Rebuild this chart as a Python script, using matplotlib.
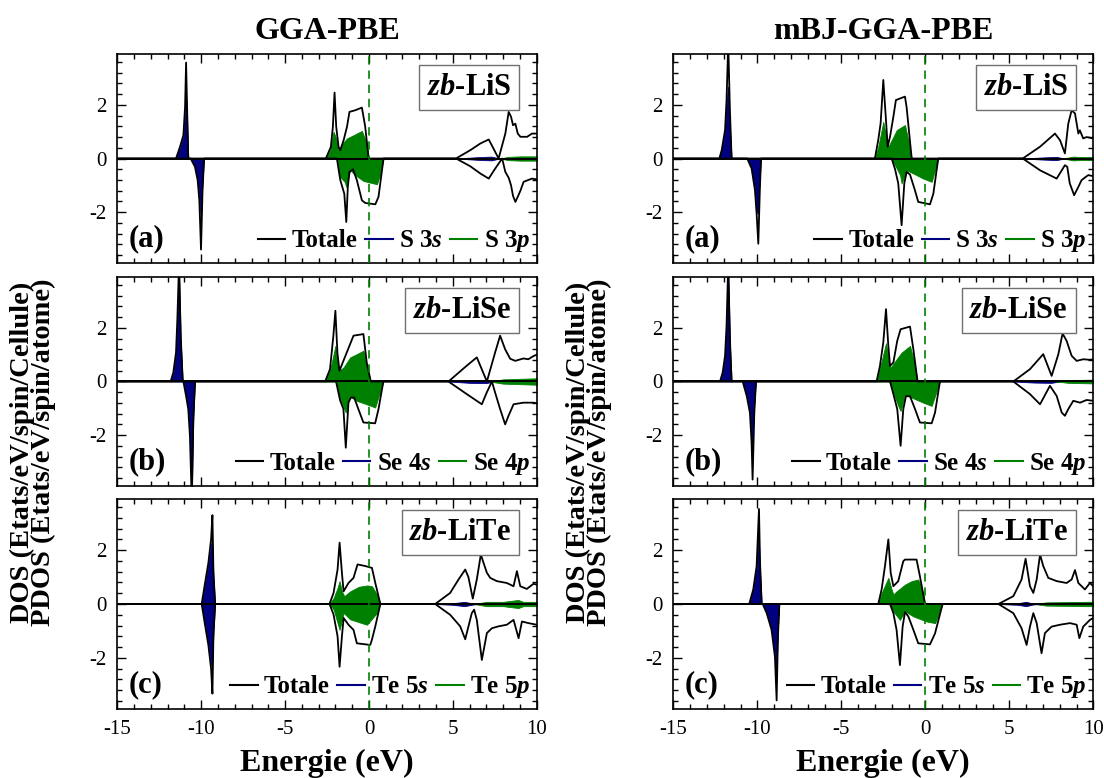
import matplotlib
matplotlib.use("Agg")
import matplotlib.pyplot as plt
from matplotlib.ticker import MultipleLocator
from matplotlib.lines import Line2D
import numpy as np

plt.rcParams['font.family'] = ['Liberation Serif', 'DejaVu Serif']
plt.rcParams['axes.unicode_minus'] = False
plt.rcParams['mathtext.fontset'] = 'custom'
plt.rcParams['mathtext.rm'] = 'Liberation Serif'
plt.rcParams['mathtext.it'] = 'Liberation Serif:italic'
plt.rcParams['mathtext.bf'] = 'Liberation Serif:bold'
plt.rcParams['mathtext.bfit'] = 'Liberation Serif:bold:italic'

# ---------------- data : (energy eV, DOS) pairs ----------------
# GGA-PBE  zb-LiS
GGA_LIS_TOT_UP = [(-15, 0), (-11.5, 0), (-11.26, 0.44), (-11.06, 0.87), (-10.96, 1.93), (-10.9, 3.58), (-10.84, 1.9), (-10.77, 0),
                  (-2.57, 0), (-2.27, 0.43), (-2.15, 1.18), (-2.05, 2.46), (-1.95, 1.18), (-1.81, 0.43), (-1.71, 0.31), (-1.51, 0.68),
                  (-1.31, 1.18), (-1.16, 1.74), (-0.82, 1.80), (-0.42, 1.90), (-0.22, 1.18), (-0.02, 0),
                  (5.19, 0), (6.04, 0.31), (6.64, 0.56), (7.14, 0.71), (7.4, 0.4), (7.73, 0), (8.13, 0.93), (8.33, 1.74), (8.47, 1.56),
                  (8.59, 1.24), (8.73, 1.3), (8.87, 0.93), (9.03, 0.81), (9.43, 0.81), (9.72, 0.93), (10, 0.93)]
GGA_LIS_TOT_DN = [(-15, 0), (-10.63, 0), (-10.37, -0.31), (-10.21, -0.81), (-10.11, -1.56), (-10.01, -3.4), (-9.92, -1.2), (-9.83, 0),
                  (-1.91, 0), (-1.71, -0.8), (-1.47, -1.31), (-1.35, -2.37), (-1.26, -1.06), (-1.16, -0.5), (-0.95, -0.4), (-0.72, -0.81),
                  (-0.42, -1.56), (-0.22, -1.66), (0.38, -1.71), (0.57, -1.43), (0.87, 0),
                  (5.19, 0), (6.04, -0.29), (6.64, -0.56), (7.14, -0.75), (7.5, -0.4), (7.94, 0), (8.13, -0.5), (8.33, -0.72), (8.47, -1.0),
                  (8.59, -1.4), (8.73, -1.62), (8.87, -1.43), (9.03, -1.2), (9.22, -0.87), (9.72, -0.75), (10, -0.78)]
GGA_LIS_S_UP = [(-11.5, 0), (-11.26, 0.4), (-11.06, 0.8), (-10.96, 1.6), (-10.91, 2.5), (-10.84, 1.5), (-10.77, 0)]
GGA_LIS_S_DN = [(-10.63, 0), (-10.37, -0.28), (-10.21, -0.75), (-10.11, -1.4), (-10.02, -2.3), (-9.93, -1.0), (-9.83, 0)]
GGA_LIS_P_UP = [(-2.57, 0), (-2.31, 0.3), (-2.11, 1.0), (-1.99, 0.81), (-1.81, 0.31), (-1.61, 0.53), (-1.31, 0.75), (-0.92, 0.87),
                (-0.42, 1.03), (-0.12, 0.56), (-0.02, 0)]
GGA_LIS_P_DN = [(-1.91, 0), (-1.71, -0.7), (-1.45, -0.87), (-1.35, -1.06), (-1.21, -0.62), (-1.12, -0.43), (-0.82, -0.62),
                (-0.32, -0.84), (0.48, -0.96), (0.68, -0.56), (0.87, 0)]
GGA_LIS_CB_S = [(5.2, 0), (6.5, 0.05), (7.3, 0.07), (7.8, 0)]
GGA_LIS_CB_P = [(7.8, 0), (8.3, 0.06), (9.0, 0.08), (10, 0.08)]

# GGA-PBE  zb-LiSe
GGA_LISE_TOT_UP = [(-15, 0), (-11.82, 0), (-11.66, 0.34), (-11.50, 1.08), (-11.42, 2.33), (-11.32, 4.4), (-11.22, 1.7), (-11.10, 0),
                   (-2.61, 0), (-2.32, 0.46), (-2.12, 1.71), (-2.0, 2.64), (-1.88, 1.08), (-1.76, 0.4), (-1.42, 0.93), (-0.92, 1.71),
                   (-0.33, 1.77), (-0.13, 0.7), (0.11, 0),
                   (4.74, 0), (5.83, 0.59), (6.43, 0.9), (7.03, 0), (7.52, 1.08), (7.82, 1.71), (8.12, 1.2), (8.42, 0.85), (8.72, 0.77),
                   (9.21, 0.86), (9.5, 0.83), (9.81, 0.95), (10, 1.0)]
GGA_LISE_TOT_DN = [(-15, 0), (-11.06, 0), (-10.90, -0.54), (-10.77, -1.03), (-10.67, -2.03), (-10.56, -4.5), (-10.47, -1.5), (-10.37, 0),
                   (-1.96, 0), (-1.72, -0.7), (-1.52, -1.03), (-1.38, -2.47), (-1.22, -0.79), (-1.08, -0.6), (-0.88, -0.6),
                   (-0.63, -1.03), (-0.33, -1.53), (0.37, -1.56), (0.57, -1.03), (0.86, 0),
                   (4.74, 0), (5.83, -0.47), (6.73, -0.85), (7.03, -0.4), (7.33, 0), (7.52, -0.41), (7.82, -1.03), (8.12, -1.6),
                   (8.32, -1.28), (8.62, -0.85), (9.21, -0.79), (9.81, -0.79), (10, -0.81)]
GGA_LISE_S_UP = [(-11.82, 0), (-11.66, 0.3), (-11.50, 1.0), (-11.42, 2.2), (-11.33, 4.4), (-11.22, 1.5), (-11.10, 0)]
GGA_LISE_S_DN = [(-11.06, 0), (-10.90, -0.5), (-10.77, -1.0), (-10.67, -2.0), (-10.57, -4.5), (-10.47, -1.3), (-10.37, 0)]
GGA_LISE_P_UP = [(-2.61, 0), (-2.32, 0.4), (-2.0, 1.33), (-1.80, 0.4), (-1.52, 0.52), (-1.12, 0.9), (-0.73, 1.02), (-0.33, 1.15),
                 (-0.13, 0.55), (0.11, 0)]
GGA_LISE_P_DN = [(-1.96, 0), (-1.72, -0.62), (-1.38, -1.16), (-1.16, -0.54), (-0.73, -0.72), (-0.13, -0.85), (0.37, -0.97), (0.86, 0)]
GGA_LISE_CB_S = [(4.74, 0), (6.0, 0.05), (7.0, 0.06), (7.4, 0)]
GGA_LISE_CB_P = [(7.2, 0), (8.0, 0.08), (9.0, 0.1), (10, 0.12)]

# GGA-PBE  zb-LiTe
GGA_LITE_TOT_UP = [(-15, 0), (-9.97, 0), (-9.77, 0.78), (-9.57, 1.53), (-9.41, 2.4), (-9.33, 3.3), (-9.27, 1.2), (-9.17, 0),
                   (-2.35, 0), (-2.11, 0.41), (-1.87, 1.28), (-1.75, 2.28), (-1.61, 1.15), (-1.51, 0.47), (-1.22, 0.78), (-0.92, 0.97),
                   (-0.68, 1.47), (-0.22, 1.41), (0.18, 1.34), (0.38, 0.78), (0.68, 0),
                   (3.95, 0), (4.84, 0.41), (5.34, 0.91), (5.74, 1.28), (5.93, 1.0), (6.19, 0.2), (6.43, 0.91), (6.67, 1.84), (6.83, 1.53),
                   (7.03, 1.16), (7.23, 0.97), (7.62, 0.85), (8.22, 0.78), (8.62, 0.66), (8.82, 1.22), (9.02, 0.66), (9.41, 0.56),
                   (9.81, 0.75), (10, 0.72)]
GGA_LITE_TOT_DN = [(-15, 0), (-9.97, 0), (-9.77, -0.78), (-9.57, -1.53), (-9.41, -2.4), (-9.33, -3.33), (-9.27, -1.2), (-9.17, 0),
                   (-2.35, 0), (-2.11, -0.39), (-1.87, -1.2), (-1.75, -2.33), (-1.61, -1.2), (-1.51, -0.52), (-1.22, -0.77),
                   (-0.92, -0.96), (-0.72, -1.46), (0.08, -1.52), (0.18, -1.32), (0.38, -0.83), (0.68, 0),
                   (3.95, 0), (4.84, -0.4), (5.44, -0.83), (5.74, -1.31), (6.13, -0.34), (6.27, -0.21), (6.43, -0.59), (6.73, -2.08),
                   (7.03, -1.08), (7.33, -0.9), (7.72, -0.83), (8.22, -0.77), (8.62, -0.59), (8.92, -1.27), (9.12, -0.65),
                   (9.51, -0.71), (10, -0.77)]
GGA_LITE_S_UP = [(-9.97, 0), (-9.77, 0.75), (-9.57, 1.45), (-9.41, 2.2), (-9.35, 2.47), (-9.27, 1.0), (-9.17, 0)]
GGA_LITE_S_DN = [(-9.97, 0), (-9.77, -0.75), (-9.57, -1.45), (-9.41, -2.2), (-9.35, -2.46), (-9.27, -1.0), (-9.17, 0)]
GGA_LITE_P_UP = [(-2.35, 0), (-2.11, 0.22), (-1.87, 0.6), (-1.75, 0.85), (-1.61, 0.47), (-1.47, 0.29), (-1.12, 0.47), (-0.6, 0.64),
                 (-0.09, 0.69), (0.18, 0.66), (0.48, 0.35), (0.68, 0)]
GGA_LITE_P_DN = [(-2.35, 0), (-2.11, -0.2), (-1.75, -0.96), (-1.51, -0.33), (-1.12, -0.57), (-0.12, -0.77), (0.48, -0.33), (0.68, 0)]
GGA_LITE_CB_S = [(3.95, 0), (5.0, 0.03), (5.7, 0.08), (6.2, 0.02), (6.5, 0)]
GGA_LITE_CB_P = [(6.3, 0), (7.0, 0.08), (8.0, 0.08), (8.9, 0.15), (9.2, 0.08), (10, 0.08)]

# mBJ-GGA-PBE  zb-LiS
MBJ_LIS_TOT_UP = [(-15, 0), (-12.26, 0), (-12.12, 0.31), (-11.92, 1.06), (-11.83, 2.18), (-11.73, 4.3), (-11.63, 1.8), (-11.53, 0),
                  (-3.0, 0), (-2.80, 0.69), (-2.66, 1.31), (-2.5, 2.93), (-2.34, 1.43), (-2.24, 0.44), (-2.10, 0.81), (-1.90, 1.56),
                  (-1.75, 2.18), (-1.21, 2.31), (-1.11, 1.9), (-0.81, 0),
                  (5.8, 0), (6.83, 0.44), (7.72, 0.93), (8.02, 0.68), (8.31, 0.19), (8.51, 1.3), (8.71, 1.8), (8.91, 1.68),
                  (9.11, 0.93), (9.2, 1.05), (9.4, 0.75), (9.6, 0.8), (10, 0.75)]
MBJ_LIS_TOT_DN = [(-15, 0), (-10.6, 0), (-10.34, -0.37), (-10.14, -1.18), (-10.04, -2.06), (-9.94, -3.18), (-9.85, -1.2), (-9.78, 0),
                  (-2.0, 0), (-1.80, -0.4), (-1.61, -0.93), (-1.41, -2.49), (-1.25, -0.93), (-1.11, -0.5), (-0.91, -0.6),
                  (-0.62, -1.18), (-0.42, -1.62), (0.28, -1.71), (0.48, -1.31), (0.77, 0),
                  (5.8, 0), (6.83, -0.44), (7.82, -0.75), (8.31, -0.25), (8.45, -0.31), (8.6, -0.93), (8.86, -1.37), (9.11, -1.06),
                  (9.3, -0.81), (9.5, -0.71), (9.7, -0.62), (10, -0.66)]
MBJ_LIS_S_UP = [(-12.26, 0), (-12.12, 0.3), (-11.92, 1.0), (-11.83, 2.0), (-11.75, 2.68), (-11.63, 1.2), (-11.53, 0)]
MBJ_LIS_S_DN = [(-10.6, 0), (-10.34, -0.35), (-10.14, -1.1), (-10.04, -2.0), (-9.96, -2.06), (-9.88, -1.0), (-9.78, 0)]
MBJ_LIS_P_UP = [(-3.0, 0), (-2.80, 0.44), (-2.5, 1.37), (-2.3, 0.69), (-2.2, 0.44), (-1.9, 0.81), (-1.7, 1.06), (-1.21, 1.25),
                (-1.01, 0.69), (-0.81, 0)]
MBJ_LIS_P_DN = [(-2.0, 0), (-1.80, -0.25), (-1.5, -0.62), (-1.41, -0.93), (-1.11, -0.44), (-0.71, -0.56), (-0.12, -0.75),
                (0.38, -0.87), (0.77, 0)]
MBJ_LIS_CB_S = [(5.8, 0), (7.0, 0.04), (7.8, 0.06), (8.3, 0)]
MBJ_LIS_CB_P = [(8.2, 0), (8.8, 0.07), (9.5, 0.05), (10, 0.06)]

# mBJ-GGA-PBE  zb-LiSe
MBJ_LISE_TOT_UP = [(-15, 0), (-12.22, 0), (-12.06, 0.34), (-11.92, 0.96), (-11.83, 2.08), (-11.73, 4.4), (-11.63, 1.6), (-11.53, 0),
                   (-2.9, 0), (-2.70, 0.58), (-2.50, 1.46), (-2.34, 2.7), (-2.20, 1.33), (-2.10, 0.58), (-1.90, 0.71), (-1.67, 1.52),
                   (-1.47, 1.95), (-0.91, 2.05), (-0.71, 1.2), (-0.46, 0),
                   (5.24, 0), (6.23, 0.46), (7.02, 1.02), (7.52, 0.21), (7.92, 1.02), (8.17, 1.79), (8.41, 1.52), (8.71, 0.96),
                   (9.01, 0.77), (9.40, 0.83), (9.80, 0.81), (10, 0.83)]
MBJ_LISE_TOT_DN = [(-15, 0), (-10.87, 0), (-10.63, -0.54), (-10.44, -1.16), (-10.34, -2.28), (-10.28, -3.66), (-10.18, -1.2), (-10.08, 0),
                   (-2.10, 0), (-1.90, -0.47), (-1.67, -1.03), (-1.47, -2.4), (-1.31, -1.03), (-1.15, -0.55), (-0.91, -0.55),
                   (-0.61, -1.03), (-0.32, -1.53), (0.38, -1.56), (0.58, -1.16), (0.87, 0),
                   (5.24, 0), (6.23, -0.47), (6.83, -0.85), (7.42, -0.16), (7.82, -0.54), (8.12, -1.16), (8.31, -1.28), (8.51, -1.03),
                   (8.81, -0.72), (9.21, -0.79), (9.60, -0.69), (10, -0.72)]
MBJ_LISE_S_UP = [(-12.22, 0), (-12.06, 0.32), (-11.92, 0.92), (-11.83, 2.0), (-11.74, 4.4), (-11.63, 1.4), (-11.53, 0)]
MBJ_LISE_S_DN = [(-10.87, 0), (-10.63, -0.5), (-10.44, -1.1), (-10.34, -2.2), (-10.30, -2.28), (-10.2, -1.0), (-10.08, 0)]
MBJ_LISE_P_UP = [(-2.9, 0), (-2.70, 0.5), (-2.34, 1.43), (-2.16, 0.65), (-2.06, 0.52), (-1.71, 0.83), (-1.41, 1.08), (-0.91, 1.33),
                 (-0.65, 0.7), (-0.46, 0)]
MBJ_LISE_P_DN = [(-2.10, 0), (-1.90, -0.42), (-1.61, -0.91), (-1.47, -1.1), (-1.21, -0.5), (-0.81, -0.6), (-0.12, -0.79),
                 (0.38, -0.91), (0.87, 0)]
MBJ_LISE_CB_S = [(5.24, 0), (6.5, 0.04), (7.5, 0.05), (8.0, 0)]
MBJ_LISE_CB_P = [(7.8, 0), (8.5, 0.05), (9.2, 0.06), (10, 0.07)]

# mBJ-GGA-PBE  zb-LiTe
MBJ_LITE_TOT_UP = [(-15, 0), (-10.48, 0), (-10.24, 0.54), (-10.04, 1.41), (-9.90, 3.53), (-9.84, 1.6), (-9.74, 0),
                   (-2.80, 0), (-2.60, 0.54), (-2.40, 1.41), (-2.20, 2.4), (-2.06, 1.16), (-1.90, 0.66), (-1.61, 0.85), (-1.31, 1.59),
                   (-1.21, 1.65), (-0.52, 1.65), (-0.32, 1.03), (-0.02, 0),
                   (4.35, 0), (5.24, 0.29), (5.73, 0.91), (5.97, 1.68), (6.23, 0.66), (6.43, 0.41), (6.63, 0.91), (6.83, 1.84),
                   (7.02, 1.41), (7.32, 0.97), (7.82, 0.85), (8.41, 0.78), (8.71, 0.91), (8.91, 1.26), (9.11, 0.78), (9.50, 0.54),
                   (9.80, 0.78), (10, 0.66)]
MBJ_LITE_TOT_DN = [(-15, 0), (-9.68, 0), (-9.44, -0.34), (-9.15, -0.96), (-8.95, -1.96), (-8.85, -3.58), (-8.77, -1.2), (-8.69, 0),
                   (-2.10, 0), (-1.90, -0.34), (-1.71, -0.96), (-1.51, -2.27), (-1.35, -0.84), (-1.21, -0.3), (-1.01, -0.46),
                   (-0.71, -0.96), (-0.42, -1.46), (0.28, -1.5), (0.58, -1.09), (1.03, 0),
                   (4.35, 0), (5.24, -0.34), (5.73, -0.9), (6.03, -1.52), (6.23, -0.84), (6.43, -0.34), (6.63, -0.71), (6.92, -1.83),
                   (7.12, -1.08), (7.52, -0.84), (8.02, -0.77), (8.61, -0.71), (9.01, -0.77), (9.17, -1.27), (9.40, -0.84),
                   (9.80, -0.59), (10, -0.52)]
MBJ_LITE_S_UP = [(-10.48, 0), (-10.24, 0.5), (-10.04, 1.35), (-9.92, 2.65), (-9.84, 1.3), (-9.74, 0)]
MBJ_LITE_S_DN = [(-9.68, 0), (-9.44, -0.32), (-9.15, -0.92), (-8.95, -1.9), (-8.87, -2.8), (-8.78, -1.0), (-8.69, 0)]
MBJ_LITE_P_UP = [(-2.80, 0), (-2.60, 0.41), (-2.20, 0.97), (-2.0, 0.53), (-1.90, 0.35), (-1.71, 0.47), (-1.21, 0.72), (-0.81, 0.85),
                 (-0.42, 0.91), (-0.12, 0.41), (-0.02, 0)]
MBJ_LITE_P_DN = [(-2.10, 0), (-1.90, -0.28), (-1.51, -0.59), (-1.21, -0.27), (-0.71, -0.46), (0.08, -0.65), (0.58, -0.71), (1.03, 0)]
MBJ_LITE_CB_S = [(4.35, 0), (5.5, 0.03), (6.0, 0.08), (6.4, 0.02), (6.7, 0)]
MBJ_LITE_CB_P = [(6.5, 0), (7.2, 0.06), (8.5, 0.07), (9.5, 0.08), (10, 0.08)]

COMPOUNDS = ["LiS", "LiSe", "LiTe"]
PANEL_TAGS = ["(a)", "(b)", "(c)"]
ORBITAL_PREFIX = ["S 3", "Se 4", "Te 5"]
METHODS = ["GGA-PBE", "mBJ-GGA-PBE"]
Y_LABEL = "DOS (Etats/eV/spin/Cellule)\nPDOS (Etats/eV/spin/atome)"
X_TICKS = [-15, -10, -5, 0, 5, 10]
Y_TICKS = [-2, 0, 2]

PANELS = {
    (0, 0): (GGA_LIS_TOT_UP, GGA_LIS_TOT_DN, GGA_LIS_S_UP, GGA_LIS_S_DN, GGA_LIS_P_UP, GGA_LIS_P_DN, GGA_LIS_CB_S, GGA_LIS_CB_P),
    (0, 1): (GGA_LISE_TOT_UP, GGA_LISE_TOT_DN, GGA_LISE_S_UP, GGA_LISE_S_DN, GGA_LISE_P_UP, GGA_LISE_P_DN, GGA_LISE_CB_S, GGA_LISE_CB_P),
    (0, 2): (GGA_LITE_TOT_UP, GGA_LITE_TOT_DN, GGA_LITE_S_UP, GGA_LITE_S_DN, GGA_LITE_P_UP, GGA_LITE_P_DN, GGA_LITE_CB_S, GGA_LITE_CB_P),
    (1, 0): (MBJ_LIS_TOT_UP, MBJ_LIS_TOT_DN, MBJ_LIS_S_UP, MBJ_LIS_S_DN, MBJ_LIS_P_UP, MBJ_LIS_P_DN, MBJ_LIS_CB_S, MBJ_LIS_CB_P),
    (1, 1): (MBJ_LISE_TOT_UP, MBJ_LISE_TOT_DN, MBJ_LISE_S_UP, MBJ_LISE_S_DN, MBJ_LISE_P_UP, MBJ_LISE_P_DN, MBJ_LISE_CB_S, MBJ_LISE_CB_P),
    (1, 2): (MBJ_LITE_TOT_UP, MBJ_LITE_TOT_DN, MBJ_LITE_S_UP, MBJ_LITE_S_DN, MBJ_LITE_P_UP, MBJ_LITE_P_DN, MBJ_LITE_CB_S, MBJ_LITE_CB_P),
}

NAVY = "#000080"
GREEN = "#008000"

fig = plt.figure(figsize=(11.04, 7.78), dpi=100)
W, H = 1104.0, 778.0

col_left = [117.3, 673.3]
col_width = [419.4, 420.0]
row_top = [54.0, 277.0, 499.0]
row_h = [209.0, 209.0, 210.0]


def xy(pairs):
    a = np.array(pairs, dtype=float)
    return a[:, 0], a[:, 1]


for c in range(2):
    for r in range(3):
        tot_up, tot_dn, s_up, s_dn, p_up, p_dn, cb_s, cb_p = PANELS[(c, r)]
        ax = fig.add_axes([col_left[c] / W, 1 - (row_top[r] + row_h[r]) / H, col_width[c] / W, row_h[r] / H])
        for pairs, col in ((s_up, NAVY), (s_dn, NAVY), (p_up, GREEN), (p_dn, GREEN)):
            e, v = xy(pairs)
            ax.fill_between(e, v, 0, color=col, lw=0.6, zorder=2)
        for pairs, col in ((cb_s, NAVY), (cb_p, GREEN)):
            e, v = xy(pairs)
            ax.fill_between(e, v, -v, color=col, lw=0.6, zorder=2)
        for pairs in (tot_up, tot_dn):
            e, v = xy(pairs)
            ax.plot(e, v, color="black", lw=1.3, zorder=3)
        ax.axhline(0, color="black", lw=1.4, zorder=4)
        ax.axvline(0, color=GREEN, lw=1.2, ls=(0, (5, 3.5)), zorder=5)

        ax.set_xlim(-15, 10)
        ax.set_ylim(-3.9, 3.9)
        ax.set_xticks(X_TICKS)
        ax.set_yticks(Y_TICKS)
        ax.xaxis.set_minor_locator(MultipleLocator(1))
        ax.yaxis.set_minor_locator(MultipleLocator(0.4))
        ax.tick_params(which="both", direction="in", top=True, right=True, width=1.0, labelsize=15)
        ax.tick_params(which="major", length=6.5, pad=8)
        ax.tick_params(which="minor", length=3.5)
        if r < 2:
            ax.tick_params(labelbottom=False)
        for sp in ax.spines.values():
            sp.set_linewidth(1.2)

        ax.text(0.94, 0.84, r"$\mathbfit{zb}$-" + COMPOUNDS[r], transform=ax.transAxes,
                ha="right", va="center", fontsize=22, fontweight="bold", zorder=6,
                bbox=dict(boxstyle="square,pad=0.25", fc="white", ec="#707070", lw=1.0))
        ax.text(0.026, 0.078, PANEL_TAGS[r], transform=ax.transAxes, ha="left", va="baseline",
                fontsize=22, fontweight="bold", zorder=6)
        pre = ORBITAL_PREFIX[r]
        handles = [Line2D([], [], color="black", lw=1.5),
                   Line2D([], [], color=NAVY, lw=1.5),
                   Line2D([], [], color=GREEN, lw=1.5)]
        labels = ["Totale", pre + r"$\mathbfit{s}$", pre + r"$\mathbfit{p}$"]
        leg = ax.legend(handles, labels, ncol=3, loc="lower right", bbox_to_anchor=(1.005, 0.0),
                        frameon=False, prop={"family": "Liberation Serif", "weight": "bold", "size": 18},
                        handlelength=1.1, handletextpad=0.25, columnspacing=0.3, borderaxespad=0.15,
                        borderpad=0.2)
        leg.set_zorder(7)

for c in range(2):
    cx = (col_left[c] + col_width[c] / 2) / W
    fig.text(cx, 1 - 39.3 / H, METHODS[c], ha="center", va="baseline", fontsize=23, fontweight="bold")
    fig.text(cx, 1 - 770.5 / H, "Energie (eV)", ha="center", va="baseline", fontsize=23, fontweight="bold")

for xpx in (33, 589):
    fig.text(xpx / W, 1 - 452 / H, Y_LABEL, rotation=90, ha="center", va="center", multialignment="center",
             fontsize=20.5, fontweight="bold", linespacing=0.82)

fig.savefig("out.png", dpi=100)
